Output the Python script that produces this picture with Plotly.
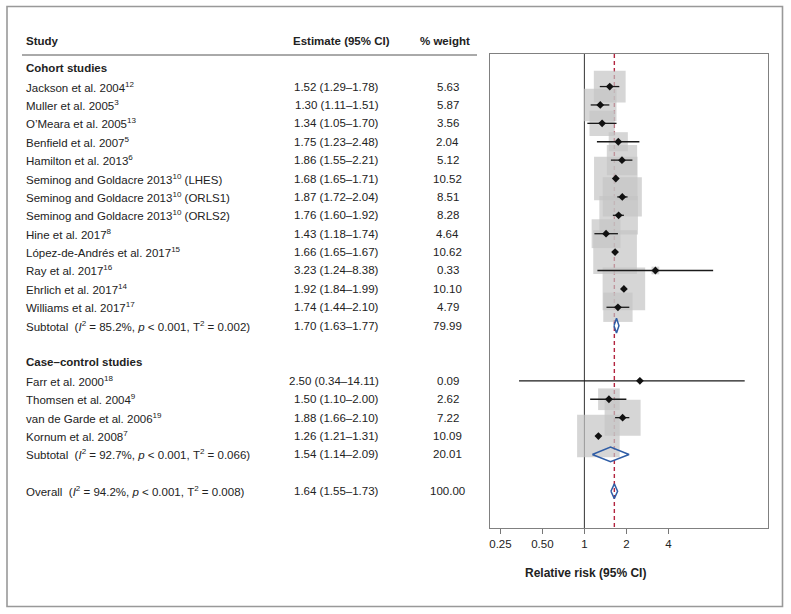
import math
import plotly.graph_objects as go

# ---------------- data ----------------
cohort_studies = [
    "Jackson et al. 2004<sup>12</sup>",
    "Muller et al. 2005<sup>3</sup>",
    "O’Meara et al. 2005<sup>13</sup>",
    "Benfield et al. 2007<sup>5</sup>",
    "Hamilton et al. 2013<sup>6</sup>",
    "Seminog and Goldacre 2013<sup>10</sup> (LHES)",
    "Seminog and Goldacre 2013<sup>10</sup> (ORLS1)",
    "Seminog and Goldacre 2013<sup>10</sup> (ORLS2)",
    "Hine et al. 2017<sup>8</sup>",
    "López-de-Andrés et al. 2017<sup>15</sup>",
    "Ray et al. 2017<sup>16</sup>",
    "Ehrlich et al. 2017<sup>14</sup>",
    "Williams et al. 2017<sup>17</sup>",
]
cohort_est = [1.52, 1.30, 1.34, 1.75, 1.86, 1.68, 1.87, 1.76, 1.43, 1.66, 3.23, 1.92, 1.74]
cohort_lo = [1.29, 1.11, 1.05, 1.23, 1.55, 1.65, 1.72, 1.60, 1.18, 1.65, 1.24, 1.84, 1.44]
cohort_hi = [1.78, 1.51, 1.70, 2.48, 2.21, 1.71, 2.04, 1.92, 1.74, 1.67, 8.38, 1.99, 2.10]
cohort_wt = [5.63, 5.87, 3.56, 2.04, 5.12, 10.52, 8.51, 8.28, 4.64, 10.62, 0.33, 10.10, 4.79]

case_studies = [
    "Farr et al. 2000<sup>18</sup>",
    "Thomsen et al. 2004<sup>9</sup>",
    "van de Garde et al. 2006<sup>19</sup>",
    "Kornum et al. 2008<sup>7</sup>",
]
case_est = [2.50, 1.50, 1.88, 1.26]
case_lo = [0.34, 1.10, 1.66, 1.21]
case_hi = [14.11, 2.00, 2.10, 1.31]
case_wt = [0.09, 2.62, 7.22, 10.09]

group_titles = ["Cohort studies", "Case–control studies"]

subtotal_labels = [
    "Subtotal&nbsp; (<i>I</i><sup>2</sup> = 85.2%, <i>p</i> &lt; 0.001, Τ<sup>2</sup> = 0.002)",
    "Subtotal&nbsp; (<i>I</i><sup>2</sup> = 92.7%, <i>p</i> &lt; 0.001, Τ<sup>2</sup> = 0.066)",
]
subtotal_est = [1.70, 1.54]
subtotal_lo = [1.63, 1.14]
subtotal_hi = [1.77, 2.09]
subtotal_wt = [79.99, 20.01]

overall_label = "Overall&nbsp; (<i>I</i><sup>2</sup> = 94.2%, <i>p</i> &lt; 0.001, Τ<sup>2</sup> = 0.008)"
overall_est = 1.64
overall_lo = 1.55
overall_hi = 1.73
overall_wt = 100.00

tick_vals = [0.25, 0.5, 1, 2, 4]
tick_text = ["0.25", "0.50", "1", "2", "4"]

# ---------------- layout helpers ----------------
W, H = 791, 614
FONT = "Liberation Sans, Arial, Helvetica, sans-serif"
TXT = "#222222"
FS = 11.5


def px_x(p):
    return p / W


def px_y(p):
    return 1 - p / H


Y_TOP, Y_BOT = -1.77, 24.0  # row units (reversed axis)

# assign rows
groups = [
    (cohort_studies, cohort_est, cohort_lo, cohort_hi, cohort_wt),
    (case_studies, case_est, case_lo, case_hi, case_wt),
]
study_rows, study_names, est_all, lo_all, hi_all, wt_all = [], [], [], [], [], []
header_rows, sub_rows = [], []
r = -1
for g in groups:
    header_rows.append(r)
    r += 1
    for name, e, lo, hi, w in zip(*g):
        study_rows.append(r)
        study_names.append(name)
        est_all.append(e)
        lo_all.append(lo)
        hi_all.append(hi)
        wt_all.append(w)
        r += 1
    sub_rows.append(r)
    r += 2
overall_row = r

fig = go.Figure()

# reference lines (behind squares)
fig.add_trace(go.Scatter(x=[1, 1], y=[Y_TOP, Y_BOT], mode="lines",
                         line=dict(color="#333333", width=1), hoverinfo="skip", showlegend=False))
fig.add_trace(go.Scatter(x=[overall_est, overall_est], y=[Y_TOP, Y_BOT], mode="lines",
                         line=dict(color="#b3243f", width=1.4, dash="4px,3px"),
                         hoverinfo="skip", showlegend=False))

# weight squares
fig.add_trace(go.Scatter(x=est_all, y=study_rows, mode="markers",
                         marker=dict(symbol="square", color="#c4c4c4",
                                     size=[13.4 * w ** 0.5 for w in wt_all], line=dict(width=0)),
                         hoverinfo="skip", showlegend=False))

# CI lines
ci_x, ci_y = [], []
for lo, hi, rr in zip(lo_all, hi_all, study_rows):
    ci_x += [lo, hi, None]
    ci_y += [rr, rr, None]
fig.add_trace(go.Scatter(x=ci_x, y=ci_y, mode="lines",
                         line=dict(color="#1a1a1a", width=1.3), hoverinfo="skip", showlegend=False))

# point estimates
fig.add_trace(go.Scatter(x=est_all, y=study_rows, mode="markers",
                         marker=dict(symbol="diamond", color="#111111", size=6),
                         hoverinfo="skip", showlegend=False))

# pooled diamonds
dh = 0.4
d_x, d_y = [], []
for e, lo, hi, rr in zip(subtotal_est + [overall_est], subtotal_lo + [overall_lo],
                         subtotal_hi + [overall_hi], sub_rows + [overall_row]):
    d_x += [lo, e, hi, e, lo, None]
    d_y += [rr, rr - dh, rr, rr + dh, rr, None]
fig.add_trace(go.Scatter(x=d_x, y=d_y, mode="lines",
                         line=dict(color="#2f5da6", width=1.5), hoverinfo="skip", showlegend=False))

# ---------------- text columns ----------------
ann = []
X_STUDY = px_x(24)
X_EST_R = px_x(381)
X_WT = px_x(447.5)


def txt(x, y, s, xanchor="left", bold=False, yref="y", size=FS):
    if bold:
        s = "<b>" + s + "</b>"
    ann.append(dict(x=x, y=y, xref="paper", yref=yref, text=s, showarrow=False,
                    xanchor=xanchor, yanchor="middle",
                    font=dict(family=FONT, size=size, color=TXT)))


# column headers
hy = px_y(41)
txt(X_STUDY, hy, "Study", bold=True, yref="paper")
txt(px_x(341.5), hy, "Estimate (95% CI)", xanchor="center", bold=True, yref="paper")
txt(px_x(444.5), hy, "% weight", xanchor="center", bold=True, yref="paper")

for t, rr in zip(group_titles, header_rows):
    txt(X_STUDY, rr, t, bold=True)

for name, e, lo, hi, w, rr in zip(study_names, est_all, lo_all, hi_all, wt_all, study_rows):
    txt(X_STUDY, rr, name)
    txt(X_EST_R, rr, f"{e:.2f} ({lo:.2f}–{hi:.2f})", xanchor="right")
    txt(X_WT, rr, f"{w:.2f}", xanchor="center")

for lab, e, lo, hi, w, rr in zip(subtotal_labels, subtotal_est, subtotal_lo, subtotal_hi,
                                 subtotal_wt, sub_rows):
    txt(X_STUDY, rr, lab)
    txt(X_EST_R, rr, f"{e:.2f} ({lo:.2f}–{hi:.2f})", xanchor="right")
    txt(X_WT, rr, f"{w:.2f}", xanchor="center")

txt(X_STUDY, overall_row, overall_label)
txt(X_EST_R, overall_row, f"{overall_est:.2f} ({overall_lo:.2f}–{overall_hi:.2f})", xanchor="right")
txt(X_WT, overall_row, f"{overall_wt:.2f}", xanchor="center")

# axis title
txt(px_x(585.5), px_y(573), "Relative risk (95% CI)", xanchor="center", bold=True, yref="paper", size=12)

# ---------------- shapes: header rule & outer frame ----------------
shapes = [
    dict(type="line", xref="paper", yref="paper", x0=px_x(22), x1=px_x(477),
         y0=px_y(55), y1=px_y(55), line=dict(color="#555555", width=1)),
    dict(type="rect", xref="paper", yref="paper", x0=px_x(7), x1=px_x(782.5),
         y0=px_y(6.5), y1=px_y(606.5), line=dict(color="#999999", width=1.6)),
]

fig.update_layout(
    width=W, height=H, autosize=False,
    margin=dict(l=0, r=0, t=0, b=0),
    paper_bgcolor="white", plot_bgcolor="white",
    showlegend=False,
    annotations=ann,
    shapes=shapes,
    xaxis=dict(type="log", domain=[px_x(490), px_x(768)],
               range=[math.log10(0.2105), math.log10(20.73)],
               tickvals=tick_vals, ticktext=tick_text,
               ticks="outside", ticklen=5, tickwidth=1, tickcolor="#777777",
               showline=True, linecolor="#808080", linewidth=1.3, mirror=True,
               showgrid=False, zeroline=False,
               tickfont=dict(family=FONT, size=FS, color=TXT)),
    yaxis=dict(domain=[px_y(528), px_y(54)], range=[Y_BOT, Y_TOP],
               showline=True, linecolor="#808080", linewidth=1.3, mirror=True,
               showgrid=False, zeroline=False, showticklabels=False, ticks=""),
)

fig.write_html("out.html", config={"displayModeBar": False, "staticPlot": True},
               post_script="document.body.style.margin='0';document.body.style.overflow='hidden';")
